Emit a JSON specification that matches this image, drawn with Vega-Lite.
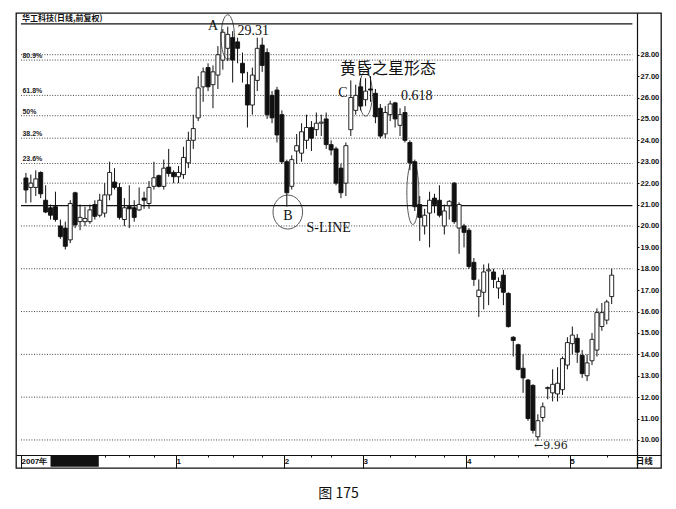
{
  "$schema": "https://vega.github.io/schema/vega-lite/v6.json",
  "width": 645,
  "height": 455,
  "autosize": {"type": "none"},
  "padding": {"left": 16, "top": 13, "right": 15, "bottom": 41},
  "background": "white",
  "config": {"view": {"stroke": "#111", "strokeWidth": 1.3}, "axis": {"grid": false, "labelOverlap": false}},
  "title": {"text": "图 175", "orient": "bottom", "anchor": "middle", "offset": 18, "font": "Noto Sans CJK SC", "fontSize": 14, "fontWeight": "normal", "color": "#111"},
  "resolve": {"axis": {"x": "independent", "y": "independent"}},
  "datasets": {
    "ohlc": [
      {"i":0,"o":22.24,"h":22.48,"l":21.07,"c":21.68},
      {"i":1,"o":21.8,"h":22.4,"l":21.1,"c":22.0},
      {"i":2,"o":21.8,"h":22.6,"l":21.4,"c":22.2},
      {"i":3,"o":22.5,"h":22.55,"l":21.3,"c":21.5},
      {"i":4,"o":21.2,"h":21.9,"l":20.6,"c":20.65},
      {"i":5,"o":20.85,"h":21.0,"l":20.3,"c":20.5},
      {"i":6,"o":20.9,"h":21.6,"l":20.2,"c":20.3},
      {"i":7,"o":20.0,"h":20.3,"l":19.4,"c":19.5},
      {"i":8,"o":19.9,"h":20.2,"l":18.9,"c":19.05},
      {"i":9,"o":19.35,"h":21.2,"l":19.2,"c":21.05},
      {"i":10,"o":21.55,"h":21.6,"l":19.9,"c":20.05},
      {"i":11,"o":20.2,"h":21.0,"l":19.8,"c":20.4},
      {"i":12,"o":20.2,"h":20.9,"l":20.0,"c":20.35},
      {"i":13,"o":20.2,"h":21.0,"l":20.1,"c":20.75},
      {"i":14,"o":21.0,"h":21.2,"l":20.3,"c":20.45},
      {"i":15,"o":20.5,"h":21.5,"l":20.4,"c":21.2},
      {"i":16,"o":20.6,"h":22.0,"l":20.4,"c":21.45},
      {"i":17,"o":21.45,"h":23.0,"l":21.2,"c":22.5},
      {"i":18,"o":22.05,"h":22.7,"l":21.7,"c":21.8},
      {"i":19,"o":21.8,"h":22.0,"l":20.3,"c":20.4},
      {"i":20,"o":20.3,"h":21.3,"l":20.0,"c":20.85},
      {"i":21,"o":20.9,"h":21.9,"l":19.9,"c":20.8},
      {"i":22,"o":20.85,"h":21.2,"l":20.2,"c":20.4},
      {"i":23,"o":20.75,"h":21.8,"l":20.7,"c":21.0},
      {"i":24,"o":21.3,"h":21.6,"l":20.8,"c":21.2},
      {"i":25,"o":21.05,"h":22.1,"l":20.8,"c":21.8},
      {"i":26,"o":21.85,"h":23.0,"l":21.7,"c":22.25},
      {"i":27,"o":22.35,"h":22.4,"l":21.8,"c":21.85},
      {"i":28,"o":21.85,"h":23.1,"l":21.7,"c":22.7},
      {"i":29,"o":22.75,"h":23.6,"l":22.3,"c":22.45},
      {"i":30,"o":22.5,"h":22.6,"l":22.0,"c":22.3},
      {"i":31,"o":22.3,"h":22.8,"l":22.0,"c":22.5},
      {"i":32,"o":22.4,"h":23.7,"l":22.2,"c":23.2},
      {"i":33,"o":22.95,"h":24.4,"l":22.7,"c":24.0},
      {"i":34,"o":24.0,"h":25.2,"l":23.6,"c":24.55},
      {"i":35,"o":25.05,"h":27.0,"l":24.9,"c":26.45},
      {"i":36,"o":26.5,"h":27.4,"l":25.8,"c":27.2},
      {"i":37,"o":27.4,"h":27.6,"l":26.3,"c":26.5},
      {"i":38,"o":26.6,"h":27.5,"l":25.5,"c":27.2},
      {"i":39,"o":27.05,"h":28.4,"l":26.4,"c":28.0},
      {"i":40,"o":27.75,"h":29.2,"l":27.3,"c":29.05},
      {"i":41,"o":28.3,"h":29.31,"l":27.7,"c":28.95},
      {"i":42,"o":28.8,"h":29.1,"l":26.7,"c":27.75},
      {"i":43,"o":28.6,"h":28.8,"l":27.6,"c":28.3},
      {"i":44,"o":27.6,"h":28.1,"l":26.7,"c":27.15},
      {"i":45,"o":26.6,"h":27.2,"l":24.6,"c":25.65},
      {"i":46,"o":25.65,"h":27.4,"l":25.2,"c":27.05},
      {"i":47,"o":26.8,"h":28.8,"l":26.3,"c":28.3},
      {"i":48,"o":28.45,"h":28.8,"l":27.2,"c":27.5},
      {"i":49,"o":28.1,"h":28.3,"l":25.0,"c":25.2},
      {"i":50,"o":26.1,"h":26.3,"l":24.8,"c":25.05},
      {"i":51,"o":26.35,"h":26.5,"l":23.9,"c":24.25},
      {"i":52,"o":25.2,"h":25.4,"l":22.9,"c":23.0},
      {"i":53,"o":23.0,"h":23.1,"l":20.9,"c":21.55},
      {"i":54,"o":21.85,"h":23.3,"l":21.7,"c":23.1},
      {"i":55,"o":23.5,"h":24.3,"l":22.9,"c":23.75},
      {"i":56,"o":23.4,"h":24.8,"l":23.0,"c":24.4},
      {"i":57,"o":24.0,"h":25.2,"l":23.6,"c":24.6},
      {"i":58,"o":24.6,"h":24.9,"l":23.5,"c":24.1},
      {"i":59,"o":24.5,"h":25.3,"l":24.2,"c":24.8},
      {"i":60,"o":24.8,"h":25.2,"l":24.2,"c":24.85},
      {"i":61,"o":25.0,"h":25.3,"l":23.6,"c":23.8},
      {"i":62,"o":23.8,"h":24.0,"l":23.3,"c":23.55},
      {"i":63,"o":23.6,"h":23.7,"l":21.9,"c":22.0},
      {"i":64,"o":22.7,"h":22.9,"l":21.3,"c":21.55},
      {"i":65,"o":22.0,"h":23.9,"l":21.4,"c":23.75},
      {"i":66,"o":24.5,"h":26.8,"l":24.2,"c":26.0},
      {"i":67,"o":25.4,"h":26.6,"l":25.2,"c":26.1},
      {"i":68,"o":26.5,"h":26.9,"l":25.4,"c":25.6},
      {"i":69,"o":25.9,"h":26.9,"l":25.6,"c":26.3},
      {"i":70,"o":26.4,"h":27.0,"l":25.8,"c":26.35},
      {"i":71,"o":26.2,"h":26.4,"l":24.8,"c":25.1},
      {"i":72,"o":25.5,"h":25.7,"l":24.1,"c":24.2},
      {"i":73,"o":24.3,"h":25.6,"l":24.1,"c":25.3},
      {"i":74,"o":25.2,"h":25.85,"l":24.9,"c":25.7},
      {"i":75,"o":25.75,"h":25.8,"l":24.6,"c":25.0},
      {"i":76,"o":24.7,"h":25.5,"l":24.2,"c":25.2},
      {"i":77,"o":25.3,"h":25.6,"l":23.9,"c":24.0},
      {"i":78,"o":23.9,"h":24.0,"l":22.6,"c":22.95},
      {"i":79,"o":23.0,"h":23.1,"l":20.7,"c":20.9},
      {"i":80,"o":21.0,"h":21.4,"l":19.3,"c":20.4},
      {"i":81,"o":20.0,"h":20.8,"l":19.6,"c":20.5},
      {"i":82,"o":20.6,"h":21.6,"l":19.0,"c":21.2},
      {"i":83,"o":21.3,"h":21.5,"l":20.6,"c":21.0},
      {"i":84,"o":21.2,"h":21.9,"l":20.4,"c":20.5},
      {"i":85,"o":20.0,"h":21.0,"l":19.6,"c":20.7},
      {"i":86,"o":20.95,"h":21.2,"l":20.3,"c":21.15},
      {"i":87,"o":22.0,"h":22.05,"l":20.1,"c":20.2},
      {"i":88,"o":19.9,"h":21.1,"l":18.7,"c":21.0},
      {"i":89,"o":20.0,"h":20.1,"l":19.0,"c":19.7},
      {"i":90,"o":19.8,"h":19.9,"l":18.0,"c":18.1},
      {"i":91,"o":18.3,"h":18.5,"l":17.2,"c":17.5},
      {"i":92,"o":16.7,"h":17.5,"l":15.75,"c":17.0},
      {"i":93,"o":16.9,"h":18.2,"l":16.1,"c":17.85},
      {"i":94,"o":17.9,"h":18.25,"l":16.3,"c":17.95},
      {"i":95,"o":17.85,"h":18.0,"l":17.1,"c":17.5},
      {"i":96,"o":17.1,"h":17.6,"l":16.6,"c":17.4},
      {"i":97,"o":17.7,"h":17.95,"l":16.3,"c":16.9},
      {"i":98,"o":16.85,"h":16.9,"l":15.25,"c":15.3},
      {"i":99,"o":14.8,"h":14.85,"l":13.9,"c":14.65},
      {"i":100,"o":14.45,"h":14.5,"l":13.25,"c":13.3},
      {"i":101,"o":13.35,"h":14.0,"l":12.2,"c":12.9},
      {"i":102,"o":12.8,"h":12.85,"l":10.9,"c":11.0},
      {"i":103,"o":12.55,"h":12.6,"l":10.3,"c":10.45},
      {"i":104,"o":10.15,"h":11.2,"l":9.96,"c":10.9},
      {"i":105,"o":11.05,"h":11.75,"l":10.85,"c":11.55},
      {"i":106,"o":12.4,"h":12.5,"l":11.9,"c":12.45},
      {"i":107,"o":12.2,"h":13.3,"l":11.8,"c":12.6},
      {"i":108,"o":12.15,"h":13.4,"l":11.8,"c":12.65},
      {"i":109,"o":12.35,"h":13.9,"l":12.1,"c":13.8},
      {"i":110,"o":13.5,"h":14.8,"l":13.3,"c":14.55},
      {"i":111,"o":14.5,"h":15.3,"l":14.0,"c":14.9},
      {"i":112,"o":14.75,"h":14.95,"l":13.6,"c":14.1},
      {"i":113,"o":13.95,"h":14.2,"l":12.9,"c":13.1},
      {"i":114,"o":13.0,"h":14.0,"l":12.75,"c":13.6},
      {"i":115,"o":13.7,"h":15.0,"l":13.5,"c":14.7},
      {"i":116,"o":14.2,"h":16.15,"l":13.9,"c":15.95},
      {"i":117,"o":15.3,"h":16.4,"l":15.1,"c":15.95},
      {"i":118,"o":15.6,"h":16.55,"l":15.4,"c":16.45},
      {"i":119,"o":16.7,"h":18.0,"l":16.35,"c":17.7}
    ],
    "grid": [{"v":28.0},{"v":27.75},{"v":26.1},{"v":25.15},{"v":24.1},{"v":22.92},{"v":22.0},{"v":20.0},{"v":18.0},{"v":16.0},{"v":14.0},{"v":12.0},{"v":10.0}],
    "fib": [{"v":27.75,"t":"80.9%"},{"v":26.1,"t":"61.8%"},{"v":25.15,"t":"50%"},{"v":24.1,"t":"38.2%"},{"v":22.92,"t":"23.6%"}],
    "letters": [{"t":"A","i":38,"p":29.35},{"t":"B","i":53.2,"p":20.47},{"t":"C","i":64.4,"p":26.2}],
    "labels": [{"t":"29.31","i":43,"p":29.11},{"t":"S-LINE","i":57,"p":19.9},{"t":"0.618","i":76.2,"p":26.05}],
    "rings": [{"k":"A","i":41,"p":28.83},{"k":"C","i":69,"p":26.17},{"k":"E","i":78.6,"p":21.54},{"k":"B","i":53.2,"p":20.65}]
  },
  "layer": [
    {
      "data": {"name": "grid"},
      "mark": {"type": "rule", "color": "#444", "strokeWidth": 1, "strokeDash": [1, 1.6]},
      "encoding": {
        "y": {"field": "v", "type": "quantitative", "scale": {"domain": [8.69, 29.95], "nice": false, "zero": false},
              "axis": {"orient": "right", "offset": -24, "values": [10,11,12,13,14,15,16,17,18,19,20,21,22,23,24,25,26,27,28], "format": ".2f", "labelFont": "Liberation Sans", "labelFontSize": 7.5, "labelFontWeight": "bold", "labelColor": "#111", "labelPadding": 1, "tickSize": 2, "tickColor": "#111", "domainColor": "#111", "domainWidth": 1.2, "title": null, "labelOverlap": false, "labelFlush": false, "labelBound": false}},
        "x": {"datum": -1, "type": "quantitative", "scale": {"domain": [-1, 128], "nice": false, "zero": false},
              "axis": {"orient": "bottom", "offset": -13, "values": [-1, 30.5, 52.5, 68.5, 89.5, 110.5], "labelExpr": "datum.value < 0 ? '2007年' : datum.value < 40 ? '1' : datum.value < 60 ? '2' : datum.value < 80 ? '3' : datum.value < 100 ? '4' : '5'", "tickSize": 13, "tickColor": "#111", "labelPadding": -11, "labelAlign": "left", "labelBaseline": "top", "labelDx": 2, "labelFont": "Liberation Sans", "labelFontSize": 8, "labelFontWeight": "bold", "labelColor": "#111", "domainColor": "#111", "domainWidth": 1.2, "title": null, "labelOverlap": false, "labelFlush": false}},
        "x2": {"datum": 123.2}
      }
    },
    {
      "data": {"values": [{}]},
      "mark": {"type": "rule", "color": "#111", "strokeWidth": 1.3},
      "encoding": {"y": {"datum": 20.95, "type": "quantitative", "axis": null}, "x": {"datum": -1, "type": "quantitative", "axis": null}, "x2": {"datum": 123.2}}
    },
    {
      "data": {"values": [{}]},
      "mark": {"type": "rule", "color": "#111", "strokeWidth": 1.2},
      "encoding": {"y": {"datum": 29.44, "type": "quantitative", "axis": null}, "x": {"datum": -1, "type": "quantitative", "axis": null}, "x2": {"datum": 123.2}}
    },
    {
      "data": {"name": "ohlc"},
      "mark": {"type": "rule", "color": "#111", "strokeWidth": 1},
      "encoding": {
        "x": {"field": "i", "type": "quantitative",
              "axis": {"orient": "bottom", "offset": -13, "values": [16, 21, 26, 37, 42, 48, 58, 62, 74, 79, 85, 95, 100, 106, 118], "tickSize": 2, "tickColor": "#111", "labels": false, "domain": false, "title": null}},
        "y": {"field": "l", "type": "quantitative", "axis": null},
        "y2": {"field": "h"}
      }
    },
    {
      "data": {"name": "ohlc"},
      "mark": {"type": "bar", "size": 4, "stroke": "#111", "strokeWidth": 0.9},
      "encoding": {
        "x": {"field": "i", "type": "quantitative", "axis": null},
        "y": {"field": "o", "type": "quantitative", "axis": null},
        "y2": {"field": "c"},
        "fill": {"condition": {"test": "datum.c >= datum.o", "value": "white"}, "value": "#111"}
      }
    },
    {
      "data": {"name": "fib"},
      "mark": {"type": "text", "align": "left", "baseline": "bottom", "dy": -1, "font": "Liberation Sans", "fontSize": 7, "fontWeight": "bold", "color": "#222"},
      "encoding": {"x": {"datum": -0.7, "type": "quantitative", "axis": null}, "y": {"field": "v", "type": "quantitative", "axis": null}, "text": {"field": "t"}}
    },
    {
      "data": {"name": "letters"},
      "mark": {"type": "text", "align": "center", "baseline": "middle", "font": "Liberation Serif", "fontSize": 14, "color": "#111"},
      "encoding": {"x": {"field": "i", "type": "quantitative", "axis": null}, "y": {"field": "p", "type": "quantitative", "axis": null}, "text": {"field": "t"}}
    },
    {
      "data": {"name": "labels"},
      "mark": {"type": "text", "align": "left", "baseline": "middle", "font": "Liberation Serif", "fontSize": 14, "color": "#111"},
      "encoding": {"x": {"field": "i", "type": "quantitative", "axis": null}, "y": {"field": "p", "type": "quantitative", "axis": null}, "text": {"field": "t"}}
    },
    {
      "data": {"values": [{"t": "←9.96", "i": 103.2, "p": 9.72}]},
      "mark": {"type": "text", "align": "left", "baseline": "middle", "font": "DejaVu Serif", "fontSize": 11, "color": "#222"},
      "encoding": {"x": {"field": "i", "type": "quantitative", "axis": null}, "y": {"field": "p", "type": "quantitative", "axis": null}, "text": {"field": "t"}}
    },
    {
      "data": {"values": [{"t": "黄昏之星形态", "i": 63.8, "p": 27.34}]},
      "mark": {"type": "text", "align": "left", "baseline": "middle", "font": "Noto Sans CJK SC", "fontSize": 16, "color": "#111"},
      "encoding": {"x": {"field": "i", "type": "quantitative", "axis": null}, "y": {"field": "p", "type": "quantitative", "axis": null}, "text": {"field": "t"}}
    },
    {
      "data": {"values": [{"t": "华工科技(日线,前复权)", "i": -0.8, "p": 29.69}]},
      "mark": {"type": "text", "align": "left", "baseline": "middle", "font": "Noto Sans CJK SC", "fontSize": 8, "fontWeight": "bold", "color": "#111"},
      "encoding": {"x": {"field": "i", "type": "quantitative", "axis": null}, "y": {"field": "p", "type": "quantitative", "axis": null}, "text": {"field": "t"}}
    },
    {
      "data": {"values": [{"t": "日线", "i": 125.6, "p": 9.0}]},
      "mark": {"type": "text", "align": "center", "baseline": "middle", "font": "Noto Sans CJK SC", "fontSize": 8.5, "fontWeight": "bold", "color": "#111"},
      "encoding": {"x": {"field": "i", "type": "quantitative", "axis": null}, "y": {"field": "p", "type": "quantitative", "axis": null}, "text": {"field": "t"}}
    },
    {
      "data": {"values": [{}]},
      "mark": {"type": "rect", "color": "#111"},
      "encoding": {"x": {"datum": 5, "type": "quantitative", "axis": null}, "x2": {"datum": 14.8}, "y": {"datum": 9.26, "type": "quantitative", "axis": null}, "y2": {"datum": 8.75}}
    },
    {
      "data": {"name": "rings"},
      "transform": [{"filter": "datum.k === 'A' || datum.k === 'C'"}],
      "mark": {"type": "point", "filled": false, "stroke": "#111", "strokeWidth": 1, "size": 1980, "shape": "M 0 -1 C 0.166 -1 0.3 -0.552 0.3 0 C 0.3 0.552 0.166 1 0 1 C -0.166 1 -0.3 0.552 -0.3 0 C -0.3 -0.552 -0.166 -1 0 -1 Z"},
      "encoding": {"x": {"field": "i", "type": "quantitative", "axis": null}, "y": {"field": "p", "type": "quantitative", "axis": null}}
    },
    {
      "data": {"name": "rings"},
      "transform": [{"filter": "datum.k === 'E'"}],
      "mark": {"type": "point", "filled": false, "stroke": "#111", "strokeWidth": 1, "size": 3969, "shape": "M 0 -1 C 0.105 -1 0.19 -0.552 0.19 0 C 0.19 0.552 0.105 1 0 1 C -0.105 1 -0.19 0.552 -0.19 0 C -0.19 -0.552 -0.105 -1 0 -1 Z"},
      "encoding": {"x": {"field": "i", "type": "quantitative", "axis": null}, "y": {"field": "p", "type": "quantitative", "axis": null}}
    },
    {
      "data": {"name": "rings"},
      "transform": [{"filter": "datum.k === 'B'"}],
      "mark": {"type": "point", "filled": false, "stroke": "#111", "strokeWidth": 1, "size": 1156, "shape": "M 0 -1 C 0.48 -1 0.87 -0.552 0.87 0 C 0.87 0.552 0.48 1 0 1 C -0.48 1 -0.87 0.552 -0.87 0 C -0.87 -0.552 -0.48 -1 0 -1 Z"},
      "encoding": {"x": {"field": "i", "type": "quantitative", "axis": null}, "y": {"field": "p", "type": "quantitative", "axis": null}}
    }
  ]
}
